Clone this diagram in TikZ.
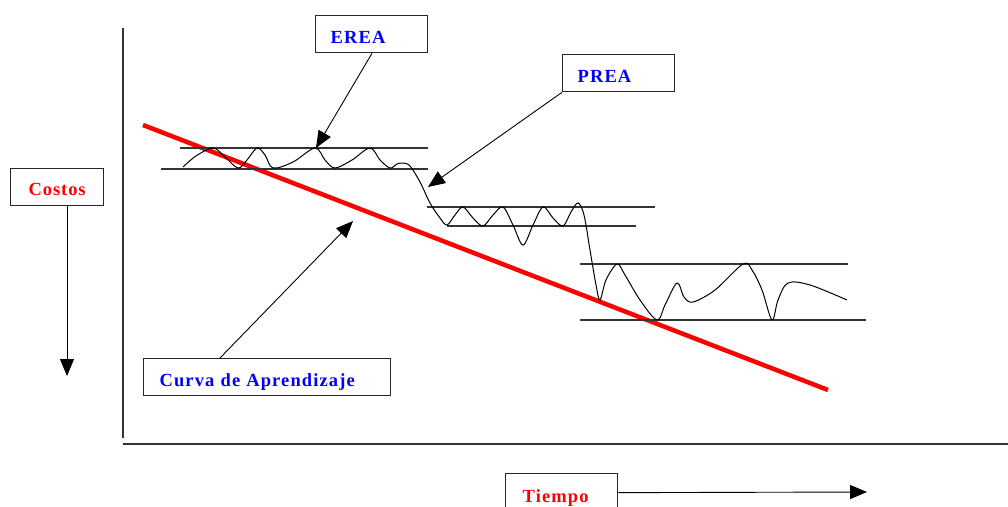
\documentclass[tikz,border=0pt]{standalone}
\usepackage{fontspec}
\setmainfont{Liberation Serif}
\usetikzlibrary{arrows.meta,calc}
\definecolor{pred}{RGB}{255,0,0}
\definecolor{pblue}{RGB}{0,0,255}
\begin{document}
\begin{tikzpicture}[x=1pt,y=-1pt,
  box/.style={draw=black!85, line width=1.3pt, minimum height=37pt, inner xsep=0pt, inner ysep=0pt, text height=19pt, text depth=0pt, font=\fontsize{18.5}{20}\selectfont\bfseries, anchor=north west},
  ln/.style={line width=1.5pt, draw=black!80},
  arr/.style={line width=0.9pt, draw=black, -{Triangle[length=17pt,width=14pt]}},
  band/.style={line width=1.2pt, draw=black!80},
]
\useasboundingbox[fill=white] (0,0) rectangle (1008,506);

% axes
\draw[ln] (123,28) -- (123,438);
\draw[ln] (123,444) -- (1008,444);

% red learning curve
\draw[line width=4.5pt, draw=pred] (143,125) -- (828,390);

% bands
\draw[band] (180,148) -- (428,148);
\draw[band] (161,169) -- (428,169);
\draw[band] (427,207) -- (655,207);
\draw[band] (447,226) -- (636,226);
\draw[band] (580,264) -- (848,264);
\draw[band] (580,320) -- (866,320);

% wavy cost curve
\draw[line width=1pt, black] plot[smooth, tension=0.55] coordinates {
(183,167) (196,156) (213,148) (225,157) (238,168) (247,160) (257,148) (265,155) (273,168) (293,162) (315,148) (325,160) (335,168) (352,160) (370,148) (380,160) (390,168) (397,164) (403,163) (410,166) (420,182) (430,203) (440,218) (447,225) (455,215) (463,207) (473,218) (483,226) (493,215) (503,207) (513,225) (523,245) (533,225) (543,207) (553,218) (563,226) (571,212) (578,203) (584,215) (590,250) (596,285) (600,300) (606,280) (617,264) (625,275) (640,300) (657,320) (665,305) (677,283) (684,297) (693,302) (715,290) (743,264) (752,270) (762,290) (772,320) (778,300) (788,283) (810,285) (847,300)};

% boxes
\node[box, minimum width=93pt, text=pred, text height=17pt] (costos) at (10,168) {\addfontfeatures{LetterSpace=5}Costos};
\node[box, minimum width=112pt, text width=82pt, inner xsep=15pt, align=left, text=pblue] (erea) at (315,15) {\addfontfeatures{LetterSpace=6}EREA};
\node[box, minimum width=112pt, text width=82pt, inner xsep=15pt, align=left, text=pblue] (prea) at (562,54) {\addfontfeatures{LetterSpace=6}PREA};
\node[box, minimum width=247pt, text width=215pt, inner xsep=16pt, align=left, text=pblue] (curva) at (143,358) {\addfontfeatures{LetterSpace=6}Curva de Aprendizaje};
\node[box, minimum width=112pt, text width=78pt, inner xsep=17pt, align=left, text=pred, minimum height=38pt] (tiempo) at (505,473) {\addfontfeatures{LetterSpace=6}Tiempo};

% arrow targets
\coordinate (cosend) at (67,376);
\coordinate (ereaend) at (316,148);
\coordinate (preaend) at (428,187);
\coordinate (curvaend) at (353,221);
\coordinate (tiempoend) at (867,492);

\draw[arr] ($(costos.south west)+(57,0)$) -- (cosend);
\draw[arr] ($(erea.south west)+(57,0)$) -- (ereaend);
\draw[arr] (prea.south west) -- (preaend);
\draw[arr] ($(curva.north west)+(77,0)$) -- (curvaend);
\draw[arr] (tiempo.east) -- (tiempoend);
\end{tikzpicture}
\end{document}
